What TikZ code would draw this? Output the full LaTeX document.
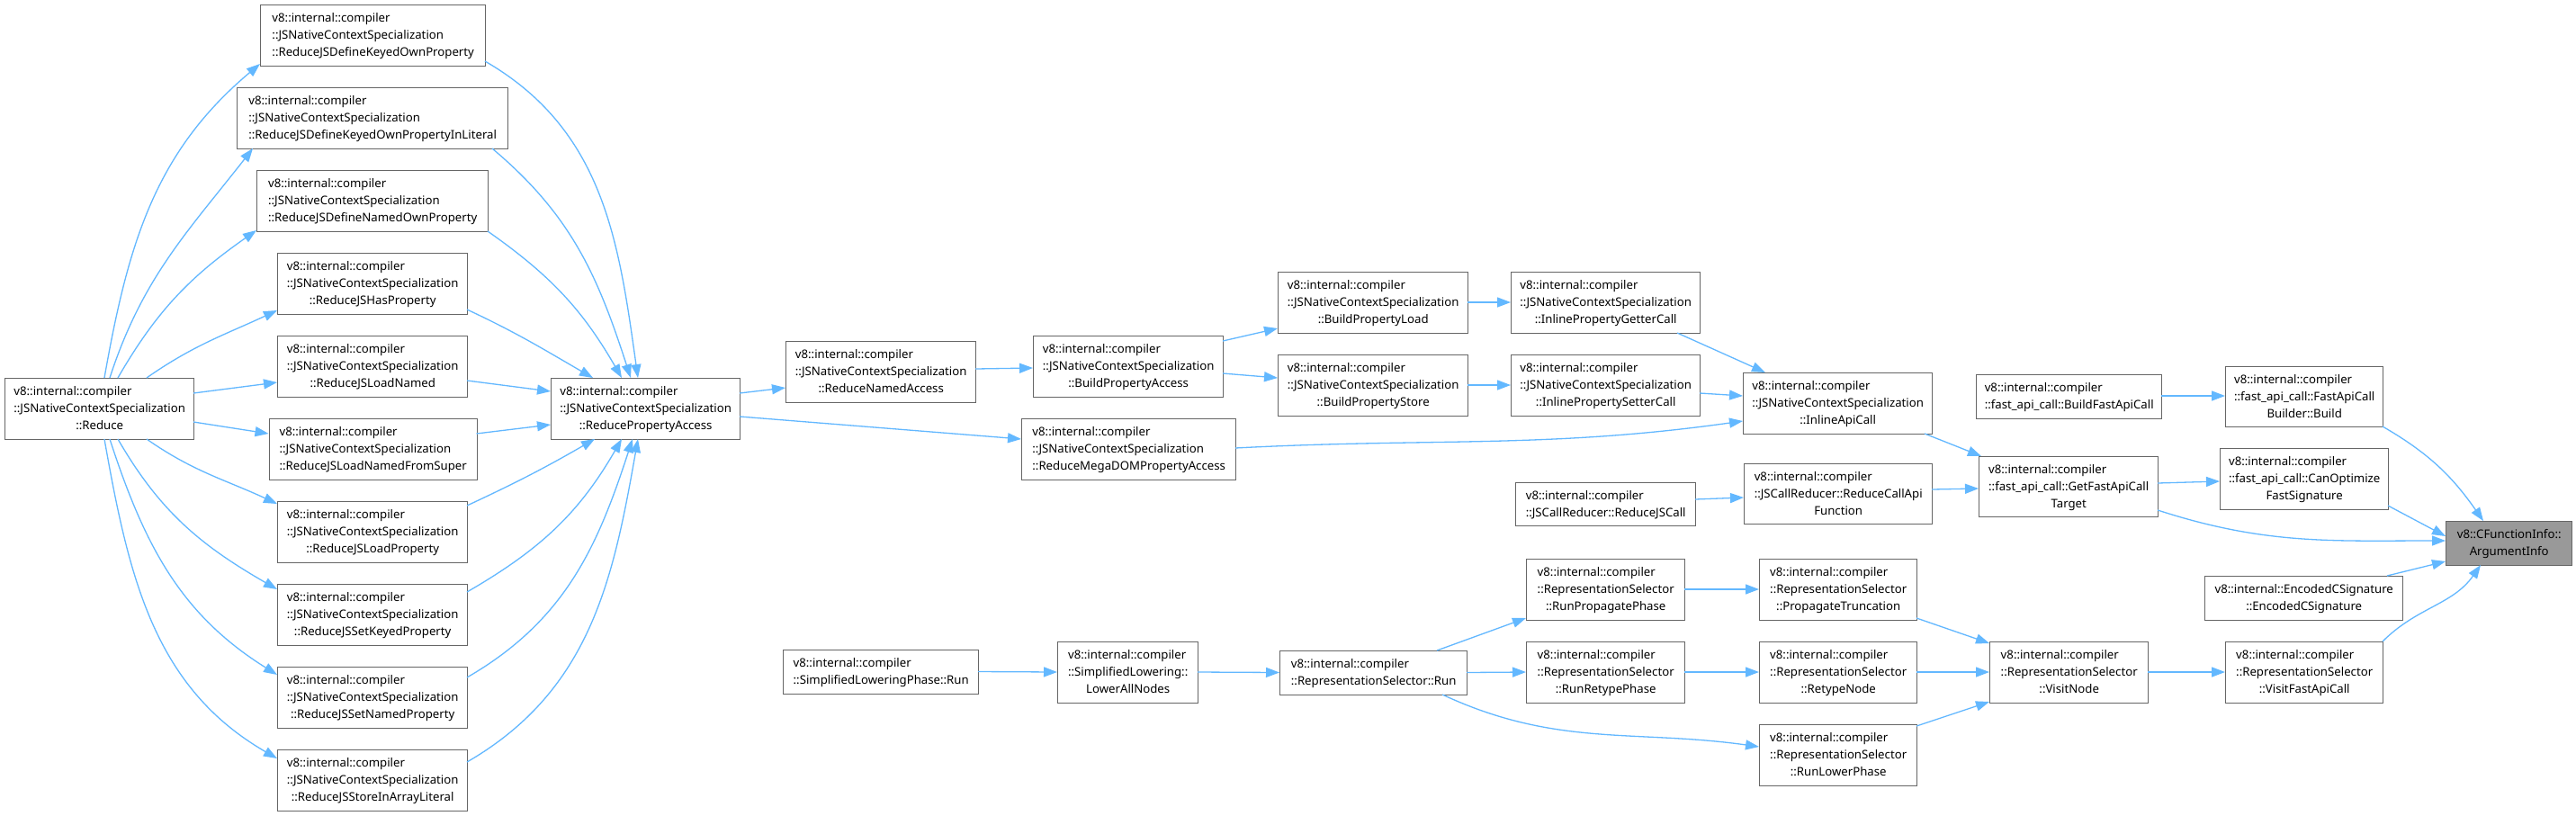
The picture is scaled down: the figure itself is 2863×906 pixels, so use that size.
\documentclass[tikz,border=0pt]{standalone}
\usepackage{fontspec}
\setmainfont{Noto Sans}
\usetikzlibrary{arrows.meta,calc}
\definecolor{edgeblue}{HTML}{63B8FF}
\definecolor{boxgray}{HTML}{666666}
\definecolor{rootfill}{HTML}{999999}
\newcommand{\threel}[3]{\begin{tabular}{@{}c@{}}\multicolumn{1}{@{}l@{}}{#1}\\\multicolumn{1}{@{}l@{}}{#2}\\#3\end{tabular}}
\newcommand{\twol}[2]{\begin{tabular}{@{}c@{}}\multicolumn{1}{@{}l@{}}{#1}\\#2\end{tabular}}
\newcommand{\vic}{v8::internal::compiler}
\newcommand{\jsn}{::JSNativeContextSpecialization}
\newcommand{\rsel}{::RepresentationSelector}
\begin{document}
\begin{tikzpicture}[x=1pt,y=-1pt,
  box/.style n args={2}{draw=boxgray, line width=1.4pt, fill=white, anchor=north west,
     inner sep=0pt, minimum width=#1, minimum height=#2,
     font=\fontsize{13.2}{19}\selectfont},
  rootbox/.style n args={2}{box={#1}{#2}, fill=rootfill},
  edge/.style={draw=edgeblue, line width=1.3pt, -{Triangle[length=15pt,width=11pt]}}]
\fill[white] (0,0) rectangle (2863,906);
\useasboundingbox (0,0) rectangle (2863,906);

% nodes
\node[box={210}{68}] (reduce) at (5,420) {\threel{\vic}{\jsn}{::Reduce}};
\node[box={250}{68}] (dkop) at (289,5) {\threel{\vic}{\jsn}{::ReduceJSDefineKeyedOwnProperty}};
\node[box={301}{68}] (dkopil) at (263,97) {\threel{\vic}{\jsn}{::ReduceJSDefineKeyedOwnPropertyInLiteral}};
\node[box={257}{68}] (dnop) at (285,189) {\threel{\vic}{\jsn}{::ReduceJSDefineNamedOwnProperty}};
\node[box={211}{68}] (hasp) at (308,281) {\threel{\vic}{\jsn}{::ReduceJSHasProperty}};
\node[box={211}{68}] (loadn) at (308,373) {\threel{\vic}{\jsn}{::ReduceJSLoadNamed}};
\node[box={231}{68}] (lnfs) at (298.5,465) {\threel{\vic}{\jsn}{::ReduceJSLoadNamedFromSuper}};
\node[box={211}{68}] (loadp) at (308,557) {\threel{\vic}{\jsn}{::ReduceJSLoadProperty}};
\node[box={211}{68}] (setk) at (308,649) {\threel{\vic}{\jsn}{::ReduceJSSetKeyedProperty}};
\node[box={211}{68}] (setn) at (308,741) {\threel{\vic}{\jsn}{::ReduceJSSetNamedProperty}};
\node[box={211}{68}] (store) at (308,833) {\threel{\vic}{\jsn}{::ReduceJSStoreInArrayLiteral}};
\node[box={210}{68}] (rpa) at (612,420) {\threel{\vic}{\jsn}{::ReducePropertyAccess}};
\node[box={211}{68}] (rna) at (873,379) {\threel{\vic}{\jsn}{::ReduceNamedAccess}};
\node[box={211}{68}] (bpa) at (1148,373) {\threel{\vic}{\jsn}{::BuildPropertyAccess}};
\node[box={238}{68}] (mega) at (1135,465) {\threel{\vic}{\jsn}{::ReduceMegaDOMPropertyAccess}};
\node[box={211}{68}] (bpl) at (1420,302) {\threel{\vic}{\jsn}{::BuildPropertyLoad}};
\node[box={211}{68}] (bps) at (1420,394) {\threel{\vic}{\jsn}{::BuildPropertyStore}};
\node[box={210}{68}] (ipgc) at (1679,302) {\threel{\vic}{\jsn}{::InlinePropertyGetterCall}};
\node[box={210}{68}] (ipsc) at (1679,394) {\threel{\vic}{\jsn}{::InlinePropertySetterCall}};
\node[box={200}{48}] (rjscall) at (1684,536) {\twol{\vic}{::JSCallReducer::ReduceJSCall}};
\node[box={210}{68}] (iac) at (1937,414) {\threel{\vic}{\jsn}{::InlineApiCall}};
\node[box={209}{67}] (rcaf) at (1938,515) {\threel{\vic}{::JSCallReducer::ReduceCallApi}{Function}};
\node[box={206}{49}] (bfac) at (2196,416) {\twol{\vic}{::fast\_api\_call::BuildFastApiCall}};
\node[box={199}{67}] (gfact) at (2199,507) {\threel{\vic}{::fast\_api\_call::GetFastApiCall}{Target}};
\node[box={175}{67}] (facb) at (2473,407) {\threel{\vic}{::fast\_api\_call::FastApiCall}{Builder::Build}};
\node[box={187}{68}] (cofs) at (2467,498) {\threel{\vic}{::fast\_api\_call::CanOptimize}{FastSignature}};
\node[rootbox={140}{49}] (arg) at (2718,579) {\twol{v8::CFunctionInfo::}{ArgumentInfo}};
\node[box={220}{49}] (ecs) at (2450,640) {\twol{v8::internal::EncodedCSignature}{::EncodedCSignature}};
\node[box={175}{68}] (vfac) at (2473,713) {\threel{\vic}{\rsel}{::VisitFastApiCall}};
\node[box={176}{68}] (vn) at (2211,713) {\threel{\vic}{\rsel}{::VisitNode}};
\node[box={175}{68}] (pt) at (1955,621) {\threel{\vic}{\rsel}{::PropagateTruncation}};
\node[box={175}{68}] (rn) at (1955,713) {\threel{\vic}{\rsel}{::RetypeNode}};
\node[box={175}{68}] (rlp) at (1955,805) {\threel{\vic}{\rsel}{::RunLowerPhase}};
\node[box={176}{68}] (rpp) at (1696,621) {\threel{\vic}{\rsel}{::RunPropagatePhase}};
\node[box={176}{68}] (rrp) at (1696,713) {\threel{\vic}{\rsel}{::RunRetypePhase}};
\node[box={208}{49}] (rsr) at (1422,723) {\twol{\vic}{::RepresentationSelector::Run}};
\node[box={156}{68}] (lan) at (1175,713) {\threel{\vic}{::SimplifiedLowering::}{LowerAllNodes}};
\node[box={217}{49}] (slpr) at (870,722) {\twol{\vic}{::SimplifiedLoweringPhase::Run}};

% edges from Reduce
\draw[edge] ($(reduce.north west)+(111,0)$) to[out=80,in=220] ($(dkop.north west)+(0,66)$);
\draw[edge] ($(reduce.north west)+(117,0)$) to[out=72,in=232] ($(dkopil.north west)+(18,68)$);
\draw[edge] ($(reduce.north west)+(126,0)$) to[out=60,in=215] ($(dnop.north west)+(0,67)$);
\draw[edge] ($(reduce.north west)+(158,0)$) to[out=35,in=205] ($(hasp.north west)+(0,64)$);
\draw[edge] ($(reduce.north west)+(210,17)$) -- ($(loadn.north west)+(0,52)$);
\draw[edge] ($(reduce.north west)+(210,49)$) -- ($(lnfs.north west)+(0,17)$);
\draw[edge] ($(reduce.north west)+(158,68)$) to[out=-35,in=155] ($(loadp.north west)+(0,3)$);
\draw[edge] ($(reduce.north west)+(126,68)$) to[out=-60,in=150] ($(setk.north west)+(0,6)$);
\draw[edge] ($(reduce.north west)+(117,68)$) to[out=-72,in=148] ($(setn.north west)+(0,9)$);
\draw[edge] ($(reduce.north west)+(111,68)$) to[out=-80,in=150] ($(store.north west)+(0,10)$);

% edges into ReducePropertyAccess
\draw[edge] ($(dkop.north west)+(250,63)$) to[out=-30,in=98] ($(rpa.north west)+(97,0)$);
\draw[edge] ($(dkopil.north west)+(284,68)$) to[out=-40,in=108] ($(rpa.north west)+(89,0)$);
\draw[edge] ($(dnop.north west)+(257,68)$) to[out=-35,in=120] ($(rpa.north west)+(79,0)$);
\draw[edge] ($(hasp.north west)+(211,63)$) to[out=-25,in=150] ($(rpa.north west)+(47,0)$);
\draw[edge] ($(loadn.north west)+(211,50)$) -- ($(rpa.north west)+(0,15)$);
\draw[edge] ($(lnfs.north west)+(231,17)$) -- ($(rpa.north west)+(0,52)$);
\draw[edge] ($(loadp.north west)+(211,5)$) to[out=25,in=210] ($(rpa.north west)+(49,68)$);
\draw[edge] ($(setk.north west)+(211,9)$) to[out=30,in=240] ($(rpa.north west)+(79,68)$);
\draw[edge] ($(setn.north west)+(211,12)$) to[out=30,in=252] ($(rpa.north west)+(91,68)$);
\draw[edge] ($(store.north west)+(211,14)$) to[out=30,in=260] ($(rpa.north west)+(97,68)$);

% middle chain
\draw[edge] ($(rpa.north west)+(210,17)$) -- ($(rna.north west)+(0,52)$);
\draw[edge] ($(rpa.north west)+(210,43)$) -- ($(mega.north west)+(0,23)$);
\draw[edge] ($(rna.north west)+(211,31)$) -- ($(bpa.north west)+(0,36)$);
\draw[edge] ($(bpa.north west)+(211,6)$) -- ($(bpl.north west)+(0,63)$);
\draw[edge] ($(bpa.north west)+(211,42)$) -- ($(bps.north west)+(0,26)$);
\draw[edge] ($(bpl.north west)+(211,34)$) -- ($(ipgc.north west)+(0,34)$);
\draw[edge] ($(bps.north west)+(211,34)$) -- ($(ipsc.north west)+(0,34)$);
\draw[edge] ($(ipgc.north west)+(185,68)$) -- ($(iac.north west)+(25,0)$);
\draw[edge] ($(ipsc.north west)+(210,43)$) -- ($(iac.north west)+(0,26)$);
\draw[edge] ($(mega.north west)+(238,33)$) to[out=3,in=188] ($(iac.north west)+(0,54)$);
\draw[edge] ($(iac.north west)+(202,68)$) -- ($(gfact.north west)+(3,0)$);
\draw[edge] ($(rjscall.north west)+(200,19)$) -- ($(rcaf.north west)+(0,38)$);
\draw[edge] ($(rcaf.north west)+(209,29)$) -- ($(gfact.north west)+(0,36)$);
\draw[edge] ($(bfac.north west)+(206,24)$) -- ($(facb.north west)+(0,33)$);
\draw[edge] ($(gfact.north west)+(199,30)$) -- ($(cofs.north west)+(0,37)$);
\draw[edge] ($(gfact.north west)+(199,60)$) to[out=-18,in=180] ($(arg.north west)+(0,22)$);
\draw[edge] ($(cofs.north west)+(187,64)$) -- ($(arg.north west)+(0,17)$);
\draw[edge] ($(facb.north west)+(175,67)$) to[out=-30,in=125] ($(arg.north west)+(42,0)$);
\draw[edge] ($(ecs.north west)+(203,0)$) -- ($(arg.north west)+(0,45)$);
\draw[edge] ($(vfac.north west)+(175,0)$) to[out=45,in=235] ($(arg.north west)+(39,49)$);

% lower chain
\draw[edge] ($(slpr.north west)+(217,24.5)$) -- ($(lan.north west)+(0,34)$);
\draw[edge] ($(lan.north west)+(156,34)$) -- ($(rsr.north west)+(0,24.5)$);
\draw[edge] ($(rsr.north west)+(175,0)$) -- ($(rpp.north west)+(0,66)$);
\draw[edge] ($(rsr.north west)+(208,24.5)$) -- ($(rrp.north west)+(0,34)$);
\draw[edge] ($(rsr.north west)+(181,49)$) to[out=-25,in=172] ($(rlp.north west)+(0,25)$);
\draw[edge] ($(rpp.north west)+(176,34)$) -- ($(pt.north west)+(0,34)$);
\draw[edge] ($(rrp.north west)+(176,34)$) -- ($(rn.north west)+(0,34)$);
\draw[edge] ($(pt.north west)+(175,66)$) -- ($(vn.north west)+(0,2)$);
\draw[edge] ($(rn.north west)+(175,34)$) -- ($(vn.north west)+(0,34)$);
\draw[edge] ($(rlp.north west)+(175,2)$) -- ($(vn.north west)+(0,67)$);
\draw[edge] ($(vn.north west)+(176,34)$) -- ($(vfac.north west)+(0,34)$);
\end{tikzpicture}
\end{document}
